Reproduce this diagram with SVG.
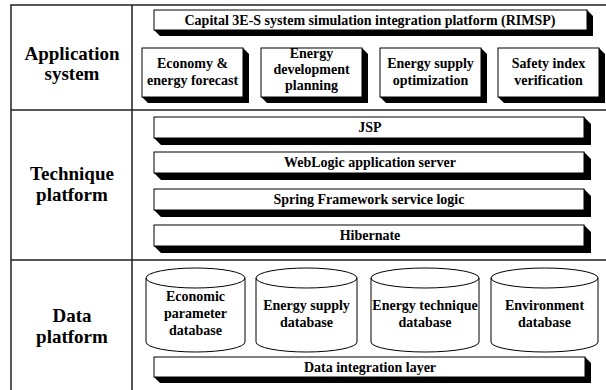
<svg xmlns="http://www.w3.org/2000/svg" width="606" height="390" viewBox="0 0 606 390">
<style>
.grid{stroke:#222;stroke-width:1.5;fill:none}
.sh{fill:#000}
.bx{fill:#fff;stroke:#000;stroke-width:1}
.cyl{fill:#fff;stroke:#000;stroke-width:1}
.t{font-family:"Liberation Serif","Times New Roman",serif;font-weight:bold;font-size:14px;text-anchor:middle;fill:#000}
.lb{font-family:"Liberation Serif","Times New Roman",serif;font-weight:bold;font-size:19px;text-anchor:middle;fill:#000}
</style>
<rect width="606" height="390" fill="#fff"/>
<g id="table">
<path class="grid" d="M11,390 V5 H606 M132,5 V390 M11,110 H606 M11,260 H606"/>
<text class="lb" x="72" y="60">Application</text>
<text class="lb" x="72" y="80">system</text>
<text class="lb" x="72" y="180">Technique</text>
<text class="lb" x="72" y="201">platform</text>
<text class="lb" x="72" y="322">Data</text>
<text class="lb" x="72" y="343">platform</text>
</g>
<g id="rimsp">
<polygon class="sh" points="587,10 593,16 593,36 160,36 154,30"/>
<rect class="bx" x="154" y="10" width="433" height="20"/>
<text class="t" x="370" y="25">Capital 3E-S system simulation integration platform (RIMSP)</text>
</g>
<g id="economy">
<polygon class="sh" points="243,48 249,54 249,103 148,103 142,97"/>
<rect class="bx" x="142" y="48" width="101" height="49"/>
<text class="t" x="192.5" y="68">Economy &amp;</text>
<text class="t" x="192.5" y="85">energy forecast</text>
</g>
<g id="planning">
<polygon class="sh" points="362,48 368,54 368,103 267,103 261,97"/>
<rect class="bx" x="261" y="48" width="101" height="49"/>
<text class="t" x="311.5" y="58">Energy</text>
<text class="t" x="311.5" y="74">development</text>
<text class="t" x="311.5" y="90">planning</text>
</g>
<g id="supply">
<polygon class="sh" points="481,48 487,54 487,103 386,103 380,97"/>
<rect class="bx" x="380" y="48" width="101" height="49"/>
<text class="t" x="430.5" y="68">Energy supply</text>
<text class="t" x="430.5" y="85">optimization</text>
</g>
<g id="safety">
<polygon class="sh" points="599,48 605,54 605,103 504,103 498,97"/>
<rect class="bx" x="498" y="48" width="101" height="49"/>
<text class="t" x="548.5" y="68">Safety index</text>
<text class="t" x="548.5" y="85">verification</text>
</g>
<g id="jsp">
<polygon class="sh" points="584,117 591,124 591,145 161,145 154,138"/>
<rect class="bx" x="154" y="117" width="430" height="21"/>
<text class="t" x="370" y="132">JSP</text>
</g>
<g id="weblogic">
<polygon class="sh" points="584,152 591,159 591,180 161,180 154,173"/>
<rect class="bx" x="154" y="152" width="430" height="21"/>
<text class="t" x="370" y="167">WebLogic application server</text>
</g>
<g id="spring">
<polygon class="sh" points="584,189 591,196 591,217 161,217 154,210"/>
<rect class="bx" x="154" y="189" width="430" height="21"/>
<text class="t" x="369" y="204">Spring Framework service logic</text>
</g>
<g id="hibernate">
<polygon class="sh" points="584,225 591,232 591,253 161,253 154,246"/>
<rect class="bx" x="154" y="225" width="430" height="21"/>
<text class="t" x="370" y="240">Hibernate</text>
</g>
<g id="db-economic">
<path class="cyl" d="M146,278 A49.5,10 0 0 1 245,278 V342 A49.5,10 0 0 1 146,342 Z M146,278 A49.5,10 0 0 0 245,278"/>
<text class="t" x="195.5" y="301">Economic</text>
<text class="t" x="195.5" y="318">parameter</text>
<text class="t" x="195.5" y="335">database</text>
</g>
<g id="db-supply">
<path class="cyl" d="M256,278 A50.5,10 0 0 1 357,278 V342 A50.5,10 0 0 1 256,342 Z M256,278 A50.5,10 0 0 0 357,278"/>
<text class="t" x="306.5" y="310">Energy supply</text>
<text class="t" x="306.5" y="327">database</text>
</g>
<g id="db-technique">
<path class="cyl" d="M371,278 A54,10 0 0 1 479,278 V342 A54,10 0 0 1 371,342 Z M371,278 A54,10 0 0 0 479,278"/>
<text class="t" x="425" y="310">Energy technique</text>
<text class="t" x="425" y="327">database</text>
</g>
<g id="db-environment">
<path class="cyl" d="M491,278 A53.5,10 0 0 1 598,278 V342 A53.5,10 0 0 1 491,342 Z M491,278 A53.5,10 0 0 0 598,278"/>
<text class="t" x="544.5" y="310">Environment</text>
<text class="t" x="544.5" y="327">database</text>
</g>
<g id="integration">
<polygon class="sh" points="585,357 591,363 591,383 160,383 154,377"/>
<rect class="bx" x="154" y="357" width="431" height="20"/>
<text class="t" x="370" y="372">Data integration layer</text>
</g>
<g id="connectors"/>
</svg>
